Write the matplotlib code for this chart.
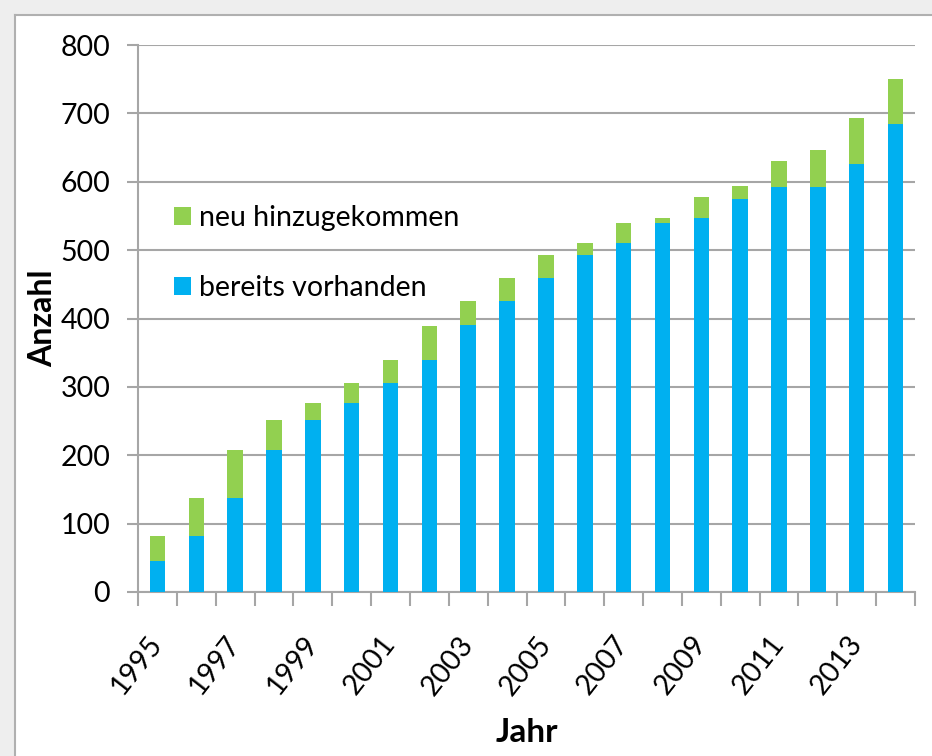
import numpy as np
import matplotlib.pyplot as plt
from matplotlib.patches import Rectangle
from matplotlib.lines import Line2D

plt.rcParams['font.family'] = ['Lato', 'DejaVu Sans']

years = list(range(1995, 2015))
vorhanden = [45, 82, 138, 208, 251, 276, 305, 339, 391, 425,
             459, 493, 510, 540, 547, 575, 593, 593, 626, 684]
neu = [37, 56, 70, 43, 25, 29, 34, 50, 34, 34,
       34, 17, 30, 7, 30, 19, 37, 54, 67, 67]
yticks = [0, 100, 200, 300, 400, 500, 600, 700, 800]

blue = '#00B0F0'
green = '#92D050'
grid = '#A6A6A6'

fig = plt.figure(figsize=(9.32, 7.56), dpi=100, facecolor='#EEEEEE')

# white panel with a thin grey border, like the screenshot
fig.patches.append(Rectangle((15 / 932, 0), 1, 1 - 15 / 756, transform=fig.transFigure,
                             facecolor='white', edgecolor='none', zorder=-2))
fig.lines.append(Line2D([15 / 932, 15 / 932], [0, 1 - 15 / 756], transform=fig.transFigure,
                        color='#B0B0B0', lw=1.5, zorder=-1))
fig.lines.append(Line2D([15 / 932, 1], [1 - 15 / 756, 1 - 15 / 756], transform=fig.transFigure,
                        color='#B0B0B0', lw=1.5, zorder=-1))

ax = fig.add_axes([138 / 932, 1 - 592 / 756, (915 - 138) / 932, (592 - 45) / 756])
ax.set_zorder(1)
ax.set_facecolor('none')

x = np.arange(len(years))
ax.bar(x, vorhanden, width=0.4, color=blue, label='bereits vorhanden', zorder=3)
ax.bar(x, neu, width=0.4, bottom=vorhanden, color=green, label='neu hinzugekommen', zorder=3)

ax.set_xlim(-0.5, len(years) - 0.5)
ax.set_ylim(0, 800)
ax.set_yticks(yticks)
ax.yaxis.grid(True, color=grid, lw=1.5, zorder=0)
ax.tick_params(axis='y', length=8, width=1.5, color=grid, labelsize=20.5, pad=12)

ax.set_xticks(x[::2])
ax.set_xticklabels([str(y) for y in years[::2]], rotation=52, ha='right', va='center',
                   rotation_mode='anchor', fontsize=20.5)
ax.set_xticks(np.arange(-0.5, len(years)), minor=True)
ax.tick_params(axis='x', which='major', length=0, pad=34)
ax.tick_params(axis='x', which='minor', length=10, width=1.5, color=grid)

for s in ['top', 'right']:
    ax.spines[s].set_visible(False)
for s in ['left', 'bottom']:
    ax.spines[s].set_color(grid)
    ax.spines[s].set_linewidth(1.5)

ax.set_ylabel('Anzahl', fontsize=23, fontweight='bold', labelpad=2)
ax.set_xlabel('Jahr', fontsize=24, fontweight='bold', labelpad=13)

h, l = ax.get_legend_handles_labels()
ax.legend(h[::-1], l[::-1], loc='upper left', bbox_to_anchor=(0.013, 0.755), frameon=False,
          fontsize=20.5, handlelength=0.6, handleheight=0.6, handletextpad=0.3,
          labelspacing=1.55)

fig.savefig('out.png', dpi=100, facecolor=fig.get_facecolor())
